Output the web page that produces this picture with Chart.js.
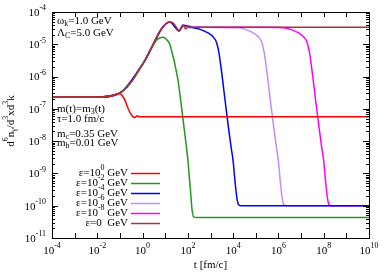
<!DOCTYPE html>
<html>
<head>
<meta charset="utf-8">
<script src="https://cdn.jsdelivr.net/npm/chart.js@4"></script>
<style>html,body{margin:0;padding:0;background:#fff}</style>
</head>
<body>
<canvas id="plot" width="389" height="273"></canvas>
<script>
// values: t in fm/c, density d6n/d3xd3k

// eps = 0 GeV
const tEps0 = [1e-4, 1e-3, 1e-2, 0.02, 0.05, 0.1, 0.2, 0.4, 0.7, 1, 1.5, 2.1, 3, 4.2, 5.9, 8, 11, 16, 22, 30, 41, 50, 61, 72, 83, 100, 120, 150, 1e3, 1e6, 1e10];
const nEps0 = [2.3e-7, 2.3e-7, 2.3e-7, 2.4e-7, 2.65e-7, 3.1e-7, 4.6e-7, 8.5e-7, 1.6e-6, 2.4e-6, 4e-6, 6.5e-6, 1.05e-5, 1.7e-5, 2.6e-5, 3.5e-5, 4.4e-5, 4.9e-5, 4.6e-5, 3.5e-5, 2.6e-5, 3.0e-5, 3.9e-5, 3.3e-5, 3.0e-5, 3.6e-5, 3.3e-5, 3.35e-5, 3.35e-5, 3.35e-5, 3.35e-5];

// eps = 10^0 GeV
const tEpsA = [1e-4, 1e-3, 1e-2, 0.02, 0.05, 0.08, 0.1, 0.13, 0.17, 0.21, 0.27, 0.34, 0.42, 0.5, 0.58, 0.68, 0.8, 1, 10, 1e3, 1e10];
const nEpsA = [2.3e-7, 2.3e-7, 2.3e-7, 2.4e-7, 2.65e-7, 2.95e-7, 3.0e-7, 2.5e-7, 1.8e-7, 1.2e-7, 8e-8, 6.2e-8, 5.4e-8, 5.6e-8, 6.1e-8, 5.8e-8, 5.65e-8, 5.7e-8, 5.7e-8, 5.7e-8, 5.7e-8];

// eps = 10^-2 GeV
const tEpsB = [1e-4, 1e-2, 0.02, 0.05, 0.1, 0.2, 0.4, 0.7, 1, 1.5, 2.1, 3, 4.2, 5.9, 8, 11, 16, 20, 24.6, 30, 37, 50, 70, 100, 130, 155, 180, 250, 1e4, 1e10];
const nEpsB = [2.3e-7, 2.3e-7, 2.4e-7, 2.65e-7, 3.1e-7, 4.6e-7, 8.5e-7, 1.6e-6, 2.4e-6, 4e-6, 6.3e-6, 9.5e-6, 1.35e-5, 1.6e-5, 1.65e-5, 1.45e-5, 1.0e-5, 5.5e-6, 3.2e-6, 1.6e-6, 7.5e-7, 1.5e-7, 2.2e-8, 2.6e-9, 3e-10, 7e-11, 4.5e-11, 4.3e-11, 4.3e-11, 4.3e-11];

// eps = 10^-4 GeV
const tEpsC = [1e-4, 1e-2, 0.1, 1, 16, 41, 61, 100, 170, 350, 700, 1300, 1800, 2300, 2800, 3500, 4500, 6000, 8000, 1e4, 1.2e4, 1.45e4, 1.7e4, 2.2e4, 1e6, 1e10];
const nEpsC = [2.3e-7, 2.3e-7, 3.1e-7, 2.4e-6, 4.9e-5, 2.6e-5, 3.9e-5, 3.6e-5, 3.25e-5, 2.9e-5, 2.35e-5, 1.7e-5, 1.2e-5, 6e-6, 2.4e-6, 7e-7, 1.6e-7, 3.2e-8, 7e-9, 2.4e-9, 6e-10, 1.8e-10, 1.1e-10, 1e-10, 1e-10, 1e-10];

// eps = 10^-6 GeV
const tEpsD = [1e-4, 1e-2, 0.1, 1, 16, 41, 61, 100, 1e3, 1.7e4, 3.5e4, 7e4, 1.3e5, 1.8e5, 2.3e5, 2.8e5, 3.5e5, 4.5e5, 6e5, 8e5, 1e6, 1.2e6, 1.45e6, 1.7e6, 2.2e6, 1e8, 1e10];
const nEpsD = [2.3e-7, 2.3e-7, 3.1e-7, 2.4e-6, 4.9e-5, 2.6e-5, 3.9e-5, 3.6e-5, 3.35e-5, 3.25e-5, 2.9e-5, 2.35e-5, 1.7e-5, 1.2e-5, 6e-6, 2.4e-6, 7e-7, 1.6e-7, 3.2e-8, 7e-9, 2.4e-9, 6e-10, 1.8e-10, 1.1e-10, 1e-10, 1e-10, 1e-10];

// eps = 10^-8 GeV
const tEpsE = [1e-4, 1e-2, 0.1, 1, 16, 41, 61, 100, 1e3, 1e5, 1.7e6, 3.5e6, 7e6, 1.3e7, 1.8e7, 2.3e7, 2.8e7, 3.5e7, 4.5e7, 6e7, 8e7, 1e8, 1.2e8, 1.45e8, 1.7e8, 2.2e8, 1e10];
const nEpsE = [2.3e-7, 2.3e-7, 3.1e-7, 2.4e-6, 4.9e-5, 2.6e-5, 3.9e-5, 3.6e-5, 3.35e-5, 3.35e-5, 3.25e-5, 2.9e-5, 2.35e-5, 1.7e-5, 1.2e-5, 6e-6, 2.4e-6, 7e-7, 1.6e-7, 3.2e-8, 7e-9, 2.4e-9, 6e-10, 1.8e-10, 1.1e-10, 1e-10, 1e-10];

const seriesExp = ['0', '-2', '-4', '-6', '-8', null];
const seriesColors = ['#ff0000', '#1f9a1f', '#0000ff', '#c58cff', '#ff00ff', '#b03035'];
const seriesT = [tEpsA, tEpsB, tEpsC, tEpsD, tEpsE, tEps0];
const seriesN = [nEpsA, nEpsB, nEpsC, nEpsD, nEpsE, nEps0];

const xTickExp = [-4, -2, 0, 2, 4, 6, 8, 10];
const yTickExp = [-11, -10, -9, -8, -7, -6, -5, -4];

const FONT = '"Liberation Serif", "Times New Roman", serif';

// text with super/subscripts: parts = [[text, ''|'^'|'_'], ...]
function richWidth(ctx, parts, size) {
    let w = 0;
    parts.forEach(([s, m]) => {
        ctx.font = (m ? size * 0.72 : size) + 'px ' + FONT;
        w += ctx.measureText(s).width;
    });
    return w;
}
function drawRich(ctx, parts, x, y, align, size) {
    const w = richWidth(ctx, parts, size);
    let cx = align === 'right' ? x - w : align === 'center' ? x - w / 2 : x;
    ctx.textAlign = 'left';
    ctx.textBaseline = 'middle';
    parts.forEach(([s, m]) => {
        ctx.font = (m ? size * 0.72 : size) + 'px ' + FONT;
        const dy = m === '^' ? -size * 0.42 : m === '_' ? size * 0.3 : 0;
        ctx.fillText(s, cx, y + dy);
        cx += ctx.measureText(s).width;
    });
}

const gnuplotFrame = {
    id: 'gnuplotFrame',
    afterDraw(chart) {
        const ctx = chart.ctx, a = chart.chartArea;
        const xs = chart.scales.x, ys = chart.scales.y;
        ctx.save();
        ctx.strokeStyle = '#000';
        ctx.lineWidth = 1;
        ctx.beginPath();
        for (let e = -4; e <= 10; e++) {
            const px = Math.round(xs.getPixelForValue(Math.pow(10, e))) + 0.5;
            ctx.moveTo(px, a.bottom); ctx.lineTo(px, a.bottom - 5);
            ctx.moveTo(px, a.top); ctx.lineTo(px, a.top + 5);
        }
        for (let e = -11; e <= -4; e++) {
            for (let m = 1; m <= 9; m++) {
                if (e === -4 && m > 1) break;
                const py = Math.round(ys.getPixelForValue(m * Math.pow(10, e))) + 0.5;
                const len = m === 1 ? 6 : 3;
                ctx.moveTo(a.left, py); ctx.lineTo(a.left + len, py);
                ctx.moveTo(a.right, py); ctx.lineTo(a.right - len, py);
            }
        }
        ctx.stroke();
        ctx.strokeRect(a.left + 0.5, a.top + 0.5, a.right - a.left, a.bottom - a.top);

        ctx.fillStyle = '#000';
        xTickExp.forEach(e => {
            drawRich(ctx, [['10', ''], [String(e), '^']], xs.getPixelForValue(Math.pow(10, e)), a.bottom + 13, 'center', 11);
        });
        yTickExp.forEach(e => {
            drawRich(ctx, [['10', ''], [String(e), '^']], a.left - 6, ys.getPixelForValue(Math.pow(10, e)) + 1, 'right', 11);
        });

        // axis titles
        drawRich(ctx, [['t [fm/c]', '']], (a.left + a.right) / 2, 265, 'center', 11);
        ctx.save();
        ctx.translate(11, 121);
        ctx.rotate(-Math.PI / 2);
        drawRich(ctx, [['d', ''], ['6', '^'], ['n', ''], ['γ', '_'], ['/d', ''], ['3', '^'], ['xd', ''], ['3', '^'], ['k', '']], 0, 0, 'center', 11);
        ctx.restore();

        // labels
        const lx = a.left + 5;
        drawRich(ctx, [['ω', ''], ['k', '_'], ['=1.0 GeV', '']], lx, 21, 'left', 11);
        drawRich(ctx, [['Λ', ''], ['C', '_'], ['=5.0 GeV', '']], lx, 33, 'left', 11);
        drawRich(ctx, [['m(t)=m', ''], ['3', '_'], ['(t)', '']], lx, 109, 'left', 11);
        drawRich(ctx, [['τ=1.0 fm/c', '']], lx, 119, 'left', 11);
        drawRich(ctx, [['m', ''], ['c', '_'], ['=0.35 GeV', '']], lx, 134, 'left', 11);
        drawRich(ctx, [['m', ''], ['b', '_'], ['=0.01 GeV', '']], lx, 143, 'left', 11);

        // key
        const rows = [173, 183, 193, 203, 213, 223];
        ctx.font = '11px ' + FONT;
        const gevW = ctx.measureText(' GeV').width;
        seriesExp.forEach((ex, i) => {
            const y = rows[i];
            ctx.fillStyle = '#000';
            drawRich(ctx, [['GeV', '']], 128, y, 'right', 11);
            const parts = ex === null ? [['ε=0 ', '']] : [['ε=10', ''], [ex, '^']];
            drawRich(ctx, parts, 128 - gevW, y, 'right', 11);
            ctx.strokeStyle = seriesColors[i];
            ctx.lineWidth = 1.5;
            ctx.beginPath();
            ctx.moveTo(131, y + 0.5); ctx.lineTo(160, y + 0.5);
            ctx.stroke();
        });
        ctx.restore();
    }
};

const datasets = seriesT.map((ts, i) => ({
    data: ts.map((t, j) => ({ x: t, y: seriesN[i][j] })),
    borderColor: seriesColors[i],
    borderWidth: 1.5,
    showLine: true,
    pointRadius: 0,
    cubicInterpolationMode: 'monotone',
    order: i === 5 ? 0 : i + 1
}));

const ctx = document.getElementById('plot');
new Chart(ctx, {
    type: 'scatter',
    data: { datasets: datasets },
    options: {
        responsive: false,
        animation: false,
        layout: { padding: { left: 52, top: 12, right: 20, bottom: 35 } },
        plugins: { legend: { display: false }, tooltip: { enabled: false } },
        scales: {
            x: { type: 'logarithmic', min: 1e-4, max: 1e10, display: false },
            y: { type: 'logarithmic', min: 1e-11, max: 1e-4, display: false }
        }
    },
    plugins: [gnuplotFrame]
});
</script>
</body>
</html>
